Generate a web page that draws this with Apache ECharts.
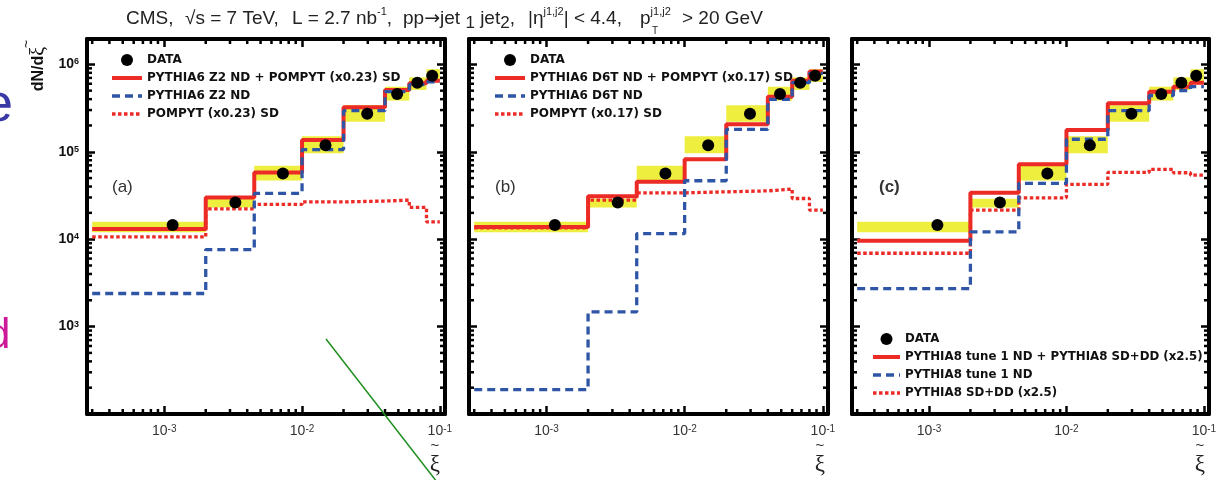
<!DOCTYPE html>
<html>
<head>
<meta charset="utf-8">
<script src="https://cdn.jsdelivr.net/npm/echarts@6/dist/echarts.min.js"></script>
<style>
  html, body { margin: 0; padding: 0; background: #fff; }
  #chart { width: 1228px; height: 480px; }
</style>
</head>
<body>
<div id="chart"></div>
<script>
// Bin edges in xi-tilde shared by every histogram
const binEdges = [3e-4, 0.002, 0.0045, 0.01, 0.02, 0.04, 0.06, 0.08, 0.1];

// Measured distribution: marker position, value and systematic band per bin
const dataXi = [1.15e-3, 3.28e-3, 7.26e-3, 0.0148, 0.0297, 0.049, 0.0686, 0.088];
const dataValues = [1.45e4, 2.63e4, 5.65e4, 1.19e5, 2.72e5, 4.58e5, 6.15e5, 7.4e5];
const sysLow = [1.2e4, 2.3e4, 4.7e4, 9.6e4, 2.2e5, 3.85e5, 5.1e5, 6.3e5];
const sysHigh = [1.58e4, 2.9e4, 6.9e4, 1.5e5, 3.4e5, 5.55e5, 7.1e5, 8.8e5];

// (a) PYTHIA6 Z2 + POMPYT
const z2Total = [1.31e4, 3.0e4, 5.8e4, 1.36e5, 3.22e5, 5.1e5, 6.08e5, 6.5e5];
const z2ND = [2.39e3, 7.6e3, 3.34e4, 1.06e5, 2.95e5, 4.87e5, 5.85e5, 6.3e5];
const pompytZ2 = [1.06e4, 2.22e4, 2.5e4, 2.67e4, 2.73e4, 2.8e4, 2.31e4, 1.58e4];

// (b) PYTHIA6 D6T + POMPYT
const d6tTotal = [1.38e4, 3.1e4, 4.53e4, 8.2e4, 2.07e5, 4.27e5, 6.5e5, 8.26e5];
const d6tND = [190, 1.47e3, 1.16e4, 4.66e4, 1.8e5, 3.98e5, 6.17e5, 7.9e5];
const pompytD6T = [1.35e4, 2.8e4, 3.39e4, 3.48e4, 3.57e4, 3.74e4, 2.92e4, 2.15e4];

// (c) PYTHIA8 tune 1
const p8Total = [9.6e3, 3.39e4, 7.2e4, 1.77e5, 3.6e5, 4.87e5, 5.56e5, 6.15e5];
const p8ND = [2.72e3, 1.21e4, 4.35e4, 1.39e5, 2.95e5, 4.4e5, 5.0e5, 5.56e5];
const p8Diff = [6.9e3, 2.15e4, 2.97e4, 4.24e4, 5.8e4, 6.3e4, 5.75e4, 5.4e4];

// Legend texts
const namesA = ['PYTHIA6 Z2 ND + POMPYT (x0.23) SD', 'PYTHIA6 Z2 ND', 'POMPYT (x0.23) SD'];
const namesB = ['PYTHIA6 D6T ND + POMPYT (x0.17) SD', 'PYTHIA6 D6T ND', 'POMPYT (x0.17) SD'];
const namesC = ['PYTHIA8 tune 1 ND + PYTHIA8 SD+DD (x2.5)', 'PYTHIA8 tune 1 ND', 'PYTHIA8 SD+DD (x2.5)'];
const panelTags = ['(a)', '(b)', '(c)'];

// Minor tick values of the log axes
const xMinorTicks = [3e-4, 4e-4, 5e-4, 6e-4, 7e-4, 8e-4, 9e-4,
  2e-3, 3e-3, 4e-3, 5e-3, 6e-3, 7e-3, 8e-3, 9e-3,
  2e-2, 3e-2, 4e-2, 5e-2, 6e-2, 7e-2, 8e-2, 9e-2];
const yMinorTicks = [2e2, 3e2, 4e2, 5e2, 6e2, 7e2, 8e2, 9e2,
  2e3, 3e3, 4e3, 5e3, 6e3, 7e3, 8e3, 9e3,
  2e4, 3e4, 4e4, 5e4, 6e4, 7e4, 8e4, 9e4,
  2e5, 3e5, 4e5, 5e5, 6e5, 7e5, 8e5, 9e5];

const XMIN = 2.75e-4, XMAX = 0.109, YMIN = 100, YMAX = 1.95e6;
const RED = '#ec2a26', BLUE = '#2f56a6', YELLOW = '#eeee3e';
const SANS = '"Liberation Sans", Arial, sans-serif';
const LEGEND_FONT = '"DejaVu Sans", sans-serif';

// Line looks of the three model curves
const totalLine = { color: RED, width: 4, type: 'solid' };
const ndLine = { color: BLUE, width: 3.3, type: [8, 5] };
const sdLine = { color: RED, width: 3.3, type: [3.5, 2.5] };

const panels = [
  { left: 87, width: 358, total: z2Total, nd: z2ND, sd: pompytZ2, names: namesA,
    legend: { left: 110, top: 54, itemWidth: 30, fontSize: 12 }, yLabels: true },
  { left: 469, width: 359, total: d6tTotal, nd: d6tND, sd: pompytD6T, names: namesB,
    legend: { left: 493, top: 54, itemWidth: 30, fontSize: 12 }, yLabels: false },
  { left: 852, width: 357, total: p8Total, nd: p8ND, sd: p8Diff, names: namesC,
    legend: { left: 871, top: 333, itemWidth: 27, fontSize: 11.8 }, yLabels: false }
];
const GRID_TOP = 39, GRID_HEIGHT = 375;

function stepPoints(values) {
  return binEdges.map((e, i) => [e, values[Math.min(i, values.length - 1)]]);
}

// Decade labels as 10^n; the 10^2 floor of the y axis stays unlabeled
function powerLabel(value) {
  const l = Math.log10(value);
  const e = Math.round(l);
  if (Math.abs(l - e) > 1e-6 || e === 2) return '';
  return '{b|10}{s|' + e + '}';
}

function renderBand(params, api) {
  const a = api.coord([api.value(0), api.value(3)]);
  const b = api.coord([api.value(1), api.value(2)]);
  return {
    type: 'rect',
    shape: { x: a[0], y: a[1], width: b[0] - a[0], height: b[1] - a[1] },
    style: { fill: YELLOW }
  };
}

function renderXMinor(params, api) {
  const cs = params.coordSys;
  const x = api.coord([api.value(0), api.value(1)])[0];
  const s = { stroke: '#000', lineWidth: 2.5 };
  return { type: 'group', children: [
    { type: 'line', shape: { x1: x, y1: cs.y + cs.height, x2: x, y2: cs.y + cs.height - 5 }, style: s },
    { type: 'line', shape: { x1: x, y1: cs.y, x2: x, y2: cs.y + 5 }, style: s }
  ] };
}

function renderYMinor(params, api) {
  const cs = params.coordSys;
  const y = api.coord([api.value(0), api.value(1)])[1];
  const s = { stroke: '#000', lineWidth: 2.5 };
  return { type: 'group', children: [
    { type: 'line', shape: { x1: cs.x, y1: y, x2: cs.x + 5, y2: y }, style: s },
    { type: 'line', shape: { x1: cs.x + cs.width, y1: y, x2: cs.x + cs.width - 5, y2: y }, style: s }
  ] };
}

const grid = [], xAxis = [], yAxis = [], series = [], legend = [];
const axisLine = { show: true, lineStyle: { color: '#000', width: 4 } };
const majorTick = { show: true, inside: true, length: 8, lineStyle: { color: '#000', width: 2.5 } };

panels.forEach((p, i) => {
  grid.push({ left: p.left, top: GRID_TOP, width: p.width, height: GRID_HEIGHT });
  // bottom and top x axes
  xAxis.push({
    type: 'log', logBase: 10, gridIndex: i, min: XMIN, max: XMAX, position: 'bottom',
    axisLine, axisTick: majorTick, splitLine: { show: false },
    axisLabel: {
      margin: 10, formatter: powerLabel, fontFamily: SANS,
      rich: {
        b: { fontSize: 14, color: '#333', fontFamily: SANS },
        s: { fontSize: 10, color: '#333', fontFamily: SANS, verticalAlign: 'top', lineHeight: 12 }
      }
    }
  });
  xAxis.push({
    type: 'log', logBase: 10, gridIndex: i, min: XMIN, max: XMAX, position: 'top',
    axisLine, axisTick: majorTick, splitLine: { show: false }, axisLabel: { show: false }
  });
  // left and right y axes
  yAxis.push({
    type: 'log', logBase: 10, gridIndex: i, min: YMIN, max: YMAX, position: 'left',
    axisLine, axisTick: majorTick, splitLine: { show: false },
    axisLabel: {
      show: p.yLabels, margin: 8, formatter: powerLabel,
      rich: {
        b: { fontSize: 14, fontWeight: 'bold', color: '#111', fontFamily: SANS },
        s: { fontSize: 9, fontWeight: 'bold', color: '#111', fontFamily: SANS, verticalAlign: 'top', lineHeight: 10 }
      }
    }
  });
  yAxis.push({
    type: 'log', logBase: 10, gridIndex: i, min: YMIN, max: YMAX, position: 'right',
    axisLine, axisTick: majorTick, splitLine: { show: false }, axisLabel: { show: false }
  });

  const xi = 2 * i, yi = 2 * i;
  series.push({
    type: 'custom', name: 'band' + i, xAxisIndex: xi, yAxisIndex: yi, z: 1,
    renderItem: renderBand, encode: { x: [0, 1], y: [2, 3] }, silent: true,
    data: sysLow.map((lo, k) => [binEdges[k], binEdges[k + 1], lo, sysHigh[k]])
  });
  series.push({
    type: 'line', name: p.names[2], xAxisIndex: xi, yAxisIndex: yi, z: 2,
    step: 'end', symbol: 'none', showSymbol: false, silent: true,
    lineStyle: sdLine, itemStyle: { color: RED },
    data: stepPoints(p.sd)
  });
  series.push({
    type: 'line', name: p.names[0], xAxisIndex: xi, yAxisIndex: yi, z: 3,
    step: 'end', symbol: 'none', showSymbol: false, silent: true,
    lineStyle: totalLine, itemStyle: { color: RED },
    data: stepPoints(p.total)
  });
  series.push({
    type: 'line', name: p.names[1], xAxisIndex: xi, yAxisIndex: yi, z: 4,
    step: 'end', symbol: 'none', showSymbol: false, silent: true,
    lineStyle: ndLine, itemStyle: { color: BLUE },
    data: stepPoints(p.nd)
  });
  series.push({
    type: 'scatter', name: 'DATA', xAxisIndex: xi, yAxisIndex: yi, z: 5,
    symbol: 'circle', symbolSize: 12, itemStyle: { color: '#000', opacity: 1 }, silent: true,
    data: dataXi.map((x, k) => [x, dataValues[k]])
  });
  series.push({
    type: 'custom', name: 'xminor' + i, xAxisIndex: xi, yAxisIndex: yi, z: 6, silent: true,
    renderItem: renderXMinor, encode: { x: 0, y: 1 },
    data: xMinorTicks.map(v => [v, 1000])
  });
  series.push({
    type: 'custom', name: 'yminor' + i, xAxisIndex: xi, yAxisIndex: yi, z: 6, silent: true,
    renderItem: renderYMinor, encode: { x: 0, y: 1 },
    data: yMinorTicks.map(v => [0.01, v])
  });

  const lineEntry = (name, ls) => ({ name: name, itemStyle: { opacity: 0 }, lineStyle: Object.assign({ opacity: 1 }, ls) });
  legend.push({
    orient: 'vertical', left: p.legend.left, top: p.legend.top, padding: 0,
    itemWidth: p.legend.itemWidth, itemHeight: 12, itemGap: 6, selectedMode: false,
    textStyle: { fontFamily: LEGEND_FONT, fontWeight: 'bold', fontSize: p.legend.fontSize, color: '#111' },
    data: [{ name: 'DATA', itemStyle: { opacity: 1, color: '#000' } },
      lineEntry(p.names[0], totalLine), lineEntry(p.names[1], ndLine), lineEntry(p.names[2], sdLine)]
  });
});

// Title pieces, each anchored at its own left edge
const TITLE_Y = 6;
const titleRich = {
  sup: { fontSize: 11, fontFamily: SANS, fill: '#222', verticalAlign: 'top', lineHeight: 12 },
  sub: { fontSize: 17, fontFamily: SANS, fill: '#222', verticalAlign: 'bottom', lineHeight: 17 },
  ar: { fontSize: 19, fontFamily: '"DejaVu Sans", sans-serif', fill: '#222' }
};
const titleParts = [
  [126, 'CMS,'],
  [185, '√s = 7 TeV,'],
  [292, 'L = 2.7 nb{sup|-1},'],
  [403, 'pp{ar|→}jet {sub|1} jet{sub|2},'],
  [528, '|η{sup|j1,j2}| < 4.4,'],
  [640, 'p{sup|j1,j2}'],
  [682, '> 20 GeV']
];
const graphic = titleParts.map(([x, t]) => ({
  type: 'text', x: x, y: TITLE_Y, silent: true,
  style: { text: t, font: '19px ' + SANS, fill: '#222', lineHeight: 26, align: 'left', verticalAlign: 'top', rich: titleRich }
}));
graphic.push({ type: 'text', x: 655, y: 31, silent: true,
  style: { text: 'T', font: '10px ' + SANS, fill: '#222', align: 'center', verticalAlign: 'middle' } });

// y axis title
graphic.push({ type: 'text', x: 39, y: 69, rotation: Math.PI / 2, silent: true,
  style: { text: 'dN/d{x|ξ}', font: 'bold 16px ' + SANS, fill: '#111', align: 'center', verticalAlign: 'middle',
    rich: { x: { fontSize: 20, fontFamily: '"Liberation Serif", serif', fill: '#111' } } } });
graphic.push({ type: 'text', x: 27, y: 44, rotation: Math.PI / 2, silent: true,
  style: { text: '~', font: '14px ' + SANS, fill: '#111', align: 'center', verticalAlign: 'middle' } });

// x axis title under each panel
const xiTitleX = [435, 820, 1200];
xiTitleX.forEach(x => {
  graphic.push({ type: 'text', x: x, y: 465, silent: true,
    style: { text: 'ξ', font: '23px "Liberation Serif", serif', fill: '#222', align: 'center', verticalAlign: 'middle' } });
  graphic.push({ type: 'text', x: x, y: 446, silent: true,
    style: { text: '~', font: '15px ' + SANS, fill: '#222', align: 'center', verticalAlign: 'middle' } });
});
const tagPos = [[112, 187], [495, 187], [879, 187]];
panelTags.forEach((t, i) => {
  graphic.push({ type: 'text', x: tagPos[i][0], y: tagPos[i][1], silent: true,
    style: { text: t, font: (i === 2 ? 'bold ' : '') + '17px ' + SANS, fill: '#333', align: 'left', verticalAlign: 'middle' } });
});
graphic.push({ type: 'text', x: -17, y: 106, silent: true,
  style: { text: 'e', font: '54px ' + SANS, fill: '#3a3aa6', align: 'left', verticalAlign: 'middle' } });
graphic.push({ type: 'text', x: -13, y: 336, silent: true,
  style: { text: 'd', font: '42px ' + SANS, fill: '#cc1a99', align: 'left', verticalAlign: 'middle' } });
graphic.push({ type: 'line', silent: true, z: 100,
  shape: { x1: 326, y1: 339, x2: 437, y2: 482 }, style: { stroke: '#1f8f1f', lineWidth: 1.5 } });

const chart = echarts.init(document.getElementById('chart'));
chart.setOption({
  animation: false,
  backgroundColor: '#fff',
  grid, xAxis, yAxis, series, legend, graphic
});
</script>
</body>
</html>
